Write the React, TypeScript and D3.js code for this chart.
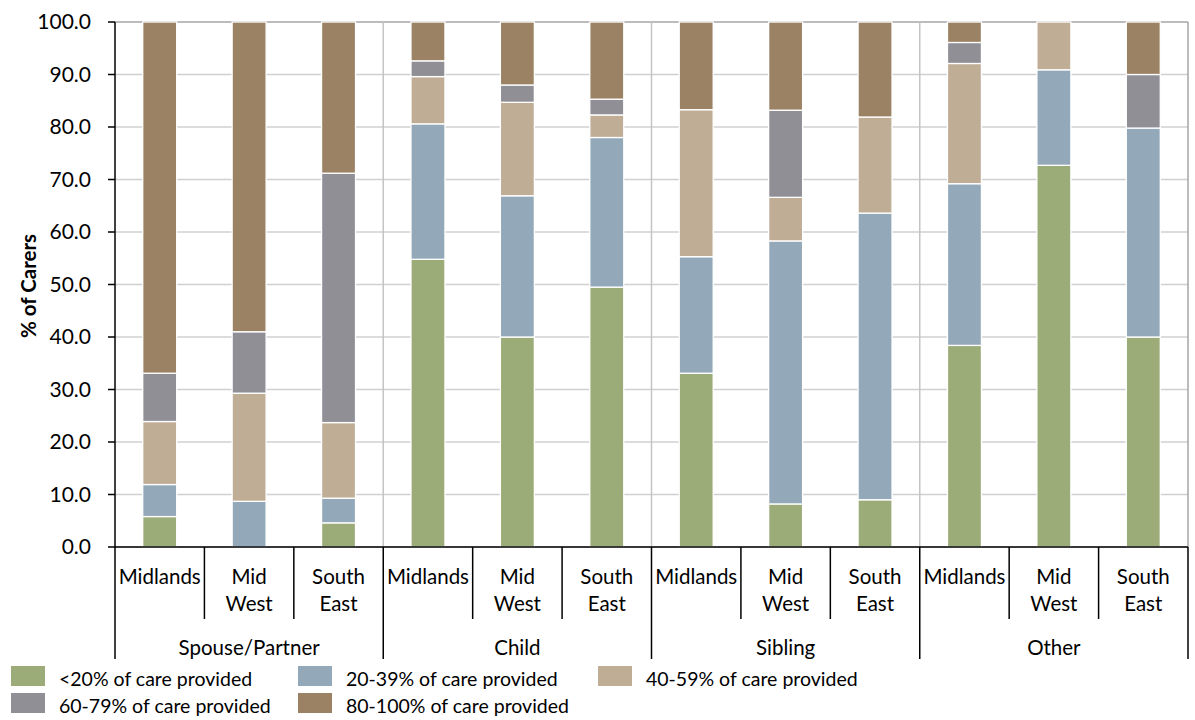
import React from "react";
import * as d3 from "d3";

const groups = ["Spouse/Partner", "Child", "Sibling", "Other"];
const regions = ["Midlands", "Mid West", "South East"];
const seriesNames = [
  "<20% of care provided",
  "20-39% of care provided",
  "40-59% of care provided",
  "60-79% of care provided",
  "80-100% of care provided",
];
const seriesColors = ["#9CAC79", "#93A9B9", "#BFAD96", "#908F96", "#9C8264"];

// per bar (group x region order)
const lt20 = [5.8, 0, 4.6, 54.8, 40.0, 49.5, 33.1, 8.2, 9.0, 38.4, 72.7, 40.0];
const p20_39 = [6.1, 8.7, 4.7, 25.8, 26.9, 28.5, 22.2, 50.1, 54.6, 30.8, 18.2, 39.8];
const p40_59 = [12.0, 20.6, 14.4, 9.0, 17.8, 4.3, 28.0, 8.3, 18.3, 22.9, 9.1, 0];
const p60_79 = [9.2, 11.7, 47.5, 3.0, 3.3, 3.0, 0, 16.6, 0, 4.0, 0, 10.2];
const p80_100 = [66.9, 59.0, 28.8, 7.4, 12.0, 14.7, 16.7, 16.8, 18.1, 3.9, 0, 10.0];
const yTicks = [0, 10, 20, 30, 40, 50, 60, 70, 80, 90, 100];

const W = 1195;
const H = 720;
const left = 115;
const right = 1188;
const top = 22;
const bottom = 547;
const FONT = "Lato, 'Open Sans', sans-serif";

export default function App() {
  const keys = groups.flatMap((g) => regions.map((r) => g + "|" + r));
  const cols = [lt20, p20_39, p40_59, p60_79, p80_100];
  const rows = keys.map((k, i) => {
    const o: any = { key: k };
    seriesNames.forEach((s, j) => (o[s] = cols[j][i]));
    return o;
  });
  const stacked = d3.stack<any>().keys(seriesNames)(rows);
  const x = d3.scaleBand<string>().domain(keys).range([left, right]).paddingInner(0.62).paddingOuter(0.31);
  const y = d3.scaleLinear().domain([0, 100]).range([bottom, top]);
  const step = x.step();
  const slotLeft = (i: number) => left + i * step;

  return (
    <svg width={W} height={H} style={{ display: "block", position: "absolute", left: 0, top: 0 }} fontFamily={FONT}>
      <rect x={0} y={0} width={W} height={H} fill="#fff" />
      {/* horizontal gridlines */}
      {yTicks.map((t) => (
        <line key={t} x1={left} x2={right} y1={y(t)} y2={y(t)} stroke={t === 100 ? "#A6A6A6" : "#D0D0D0"} strokeWidth={1.5} />
      ))}
      {/* vertical group separators in plot */}
      {[1, 2, 3].map((g) => (
        <line key={g} x1={slotLeft(g * 3)} x2={slotLeft(g * 3)} y1={top} y2={bottom} stroke="#C4C4C4" strokeWidth={1.5} />
      ))}
      <line x1={right} x2={right} y1={top} y2={bottom} stroke="#A6A6A6" strokeWidth={1.5} />
      {/* bars */}
      {stacked.map((layer, j) => (
        <g key={layer.key} fill={seriesColors[j]}>
          {layer.map((d, i) =>
            d[1] - d[0] > 0 ? (
              <rect
                key={i}
                x={x(keys[i])}
                width={x.bandwidth()}
                y={y(d[1])}
                height={y(d[0]) - y(d[1])}
                stroke="#fff"
                strokeWidth={1.3}
              />
            ) : null
          )}
        </g>
      ))}
      {/* y axis */}
      <line x1={left} x2={left} y1={top} y2={bottom} stroke="#000" strokeWidth={1.5} />
      {yTicks.map((t) => (
        <g key={t}>
          <line x1={left - 7} x2={left} y1={y(t)} y2={y(t)} stroke="#000" strokeWidth={1.5} />
          <text x={91} y={y(t)} dy="0.35em" textAnchor="end" fontSize={21} fill="#000">
            {t.toFixed(1)}
          </text>
        </g>
      ))}
      <text transform={`translate(36,286) rotate(-90)`} textAnchor="middle" fontSize={20.5} fontWeight="bold" fill="#000">
        % of Carers
      </text>
      {/* x axis */}
      <line x1={left} x2={right} y1={bottom} y2={bottom} stroke="#000" strokeWidth={1.5} />
      {d3.range(13).map((i) => (
        <line
          key={i}
          x1={slotLeft(i)}
          x2={slotLeft(i)}
          y1={bottom}
          y2={i % 3 === 0 ? 659 : 619}
          stroke="#000"
          strokeWidth={1.5}
        />
      ))}
      {keys.map((k, i) => {
        const r = regions[i % 3];
        const cx = slotLeft(i) + step / 2;
        const parts = r.split(" ");
        return (
          <text key={k} x={cx} textAnchor="middle" fontSize={20.5} fill="#000">
            {parts.map((p, pi) => (
              <tspan key={pi} x={cx} y={577 + pi * 27} dy="0.35em">
                {p}
              </tspan>
            ))}
          </text>
        );
      })}
      {groups.map((g, gi) => (
        <text key={g} x={slotLeft(gi * 3) + step * 1.5} y={648} dy="0.35em" textAnchor="middle" fontSize={20.5} fill="#000">
          {g}
        </text>
      ))}
      {/* legend */}
      {seriesNames.map((s, j) => {
        const colX = [11, 298, 598][j % 3];
        const rowY = j < 3 ? 666 : 693;
        return (
          <g key={s}>
            <rect x={colX} y={rowY} width={34} height={20} fill={seriesColors[j]} />
            <text x={colX + 48} y={rowY + 13} dy="0.35em" fontSize={19.5} fill="#000">
              {s}
            </text>
          </g>
        );
      })}
    </svg>
  );
}
